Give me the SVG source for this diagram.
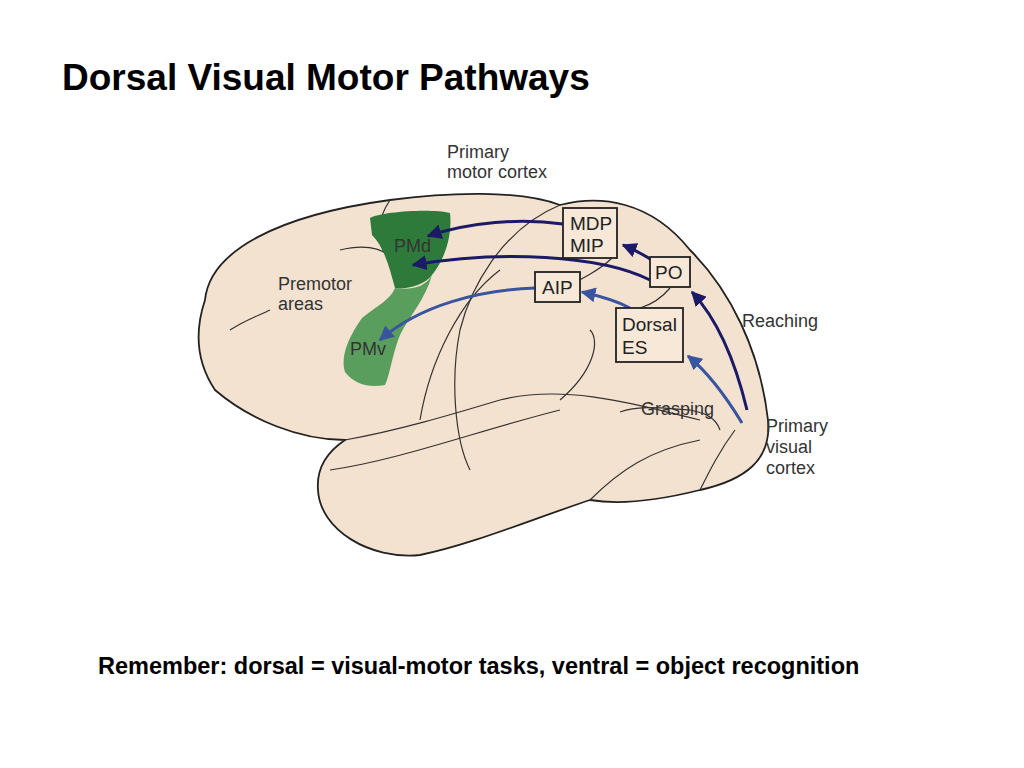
<svg xmlns="http://www.w3.org/2000/svg" width="1024" height="768" viewBox="0 0 1024 768">
<style>
text{font-family:"Liberation Sans",Arial,sans-serif}
.lbl{font-size:18px;fill:#333}
.box rect{fill:#f7e8d8;stroke:#222;stroke-width:1.8}
.box text{font-size:19px;fill:#222}
.sul{fill:none;stroke:#333;stroke-width:1.2}
.dk{fill:none;stroke:#1a1a66;stroke-width:3}
.lt{fill:none;stroke:#3a55a0;stroke-width:3}
</style>
<defs>
<marker id="ad" viewBox="0 0 10 10" refX="9" refY="5" markerWidth="5" markerHeight="5" orient="auto" markerUnits="strokeWidth"><path d="M0,0L10,5L0,10z" fill="#1a1a66"/></marker>
<marker id="al" viewBox="0 0 10 10" refX="9" refY="5" markerWidth="5" markerHeight="5" orient="auto" markerUnits="strokeWidth"><path d="M0,0L10,5L0,10z" fill="#3a55a0"/></marker>
</defs>
<rect width="1024" height="768" fill="#fff"/>
<text x="62" y="90" font-size="37" font-weight="bold" fill="#000">Dorsal Visual Motor Pathways</text>
<g id="brain">
<path d="M205,300 C210,250 280,215 390,200 C450,192 520,190 560,205 C600,195 650,200 690,250 C730,290 760,350 768,420 C772,460 745,480 700,490 C660,500 620,505 590,500 C530,520 470,545 420,555 C370,560 320,530 318,490 C316,465 330,450 345,440 C300,440 250,420 215,390 C195,360 195,330 205,300 Z" fill="#f4e2d0" stroke="#222" stroke-width="1.8"/>
<path class="sul" d="M345,440 C400,430 450,415 500,400 C560,385 620,400 700,420"/>
<path class="sul" d="M330,470 C400,460 480,430 560,410"/>
<path class="sul" d="M390,200 C370,230 380,260 400,262 M340,250 C360,245 380,245 395,260"/>
<path class="sul" d="M560,205 C500,230 470,290 460,330 C450,380 455,440 470,470"/>
<path class="sul" d="M420,420 C430,360 460,300 500,270"/>
<path class="sul" d="M230,330 C245,320 260,315 270,310"/>
<path class="sul" d="M620,412 C640,405 660,408 690,410 C700,412 715,415 720,430"/>
<path class="sul" d="M700,490 C710,470 720,450 735,430"/>
<path class="sul" d="M590,500 C620,470 650,450 700,440"/>
<path class="sul" d="M560,290 C580,280 600,270 612,258"/>
<path class="sul" d="M670,288 C660,300 650,305 640,308"/>
<path class="sul" d="M590,330 C600,340 595,370 560,400"/>
</g>
<g id="pmd"><path d="M370,218 C380,212 430,208 450,213 C452,230 448,255 432,275 C425,285 405,290 395,288 C390,270 385,248 372,235 Z" fill="#2e7a3a"/></g>
<g id="pmv"><path d="M395,288 C410,290 425,288 432,275 C425,300 410,315 400,335 C392,355 390,375 385,385 C370,388 355,385 345,372 C340,355 350,335 362,318 C378,305 390,300 395,288 Z" fill="#5a9e5e"/></g>
<text class="lbl" x="394" y="252" fill="#111">PMd</text>
<text class="lbl" x="350" y="355" fill="#111">PMv</text>
<g id="connectors">
<path class="dk" d="M563,224 C520,218 470,222 428,236" marker-end="url(#ad)"/>
<path class="dk" d="M650,280 C600,255 500,250 413,265" marker-end="url(#ad)"/>
<path class="lt" d="M535,288 C480,290 420,305 380,340" marker-end="url(#al)"/>
<path class="lt" d="M630,308 C615,300 600,296 582,292" marker-end="url(#al)"/>
<path class="dk" d="M656,263 C645,255 635,250 623,245" marker-end="url(#ad)"/>
<path class="dk" d="M747,410 C735,360 718,320 692,292" marker-end="url(#ad)"/>
<path class="lt" d="M742,423 C725,395 705,370 688,356" marker-end="url(#al)"/>
</g>
<g id="mdp" class="box"><rect x="563" y="208" width="54" height="50"/><text x="570" y="230">MDP</text><text x="570" y="252">MIP</text></g>
<g id="po" class="box"><rect x="650" y="257" width="40" height="30"/><text x="655" y="279">PO</text></g>
<g id="aip" class="box"><rect x="535" y="272" width="45" height="30"/><text x="542" y="294">AIP</text></g>
<g id="des" class="box"><rect x="616" y="308" width="67" height="54"/><text x="622" y="331">Dorsal</text><text x="622" y="354">ES</text></g>
<text class="lbl" x="447" y="158">Primary</text>
<text class="lbl" x="447" y="178">motor cortex</text>
<text class="lbl" x="278" y="290">Premotor</text>
<text class="lbl" x="278" y="310">areas</text>
<text class="lbl" x="742" y="327">Reaching</text>
<text class="lbl" x="641" y="415">Grasping</text>
<text class="lbl" x="766" y="432">Primary</text>
<text class="lbl" x="766" y="453">visual</text>
<text class="lbl" x="766" y="474">cortex</text>
<text x="98" y="674" font-size="23.5" font-weight="bold" fill="#000">Remember: dorsal = visual-motor tasks, ventral = object recognition</text>
</svg>
